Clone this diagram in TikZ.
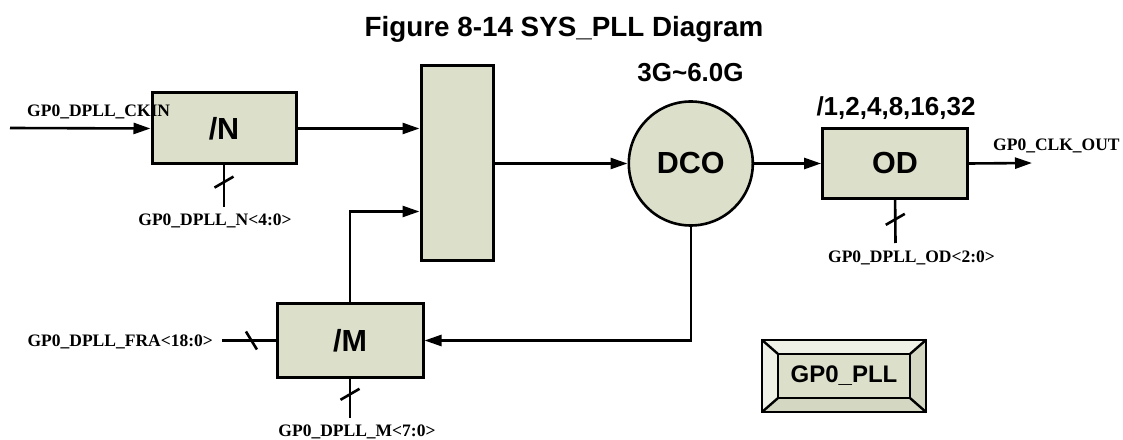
\documentclass[tikz,border=0pt]{standalone}
\usepackage{fontspec}
\setmainfont{Liberation Serif}
\newfontfamily\arialfont{Liberation Sans}
\usetikzlibrary{arrows.meta,positioning,calc}

\definecolor{boxfill}{RGB}{220,224,203}
\definecolor{bevellight}{RGB}{239,241,231}
\definecolor{beveldark}{RGB}{212,216,194}

\begin{document}
\begin{tikzpicture}[
    x=1pt, y=1pt,
    block/.style={rectangle, draw=black, line width=3pt, fill=boxfill, inner sep=0pt, font=\arialfont\bfseries\fontsize{30.5}{36}\selectfont},
    dcoblock/.style={circle, draw=black, line width=2.6pt, fill=boxfill, minimum size=124pt, inner sep=0pt, font=\arialfont\bfseries\fontsize{30.5}{36}\selectfont},
    pllface/.style={rectangle, fill=boxfill, inner sep=0pt, font=\arialfont\bfseries\fontsize{24}{29}\selectfont},
    bevelline/.style={line width=2.4pt, line join=miter},
    wire/.style={line width=2.6pt},
    sig/.style={font=\bfseries\fontsize{17.5}{21}\selectfont, inner sep=0pt},
    note/.style={font=\arialfont\bfseries\fontsize{26}{31}\selectfont, inner sep=0pt},
    title/.style={font=\arialfont\bfseries\fontsize{27.8}{33}\selectfont, inner sep=0pt},
    >={Triangle[length=17pt,width=11pt]}
]
\useasboundingbox (0,0) rectangle (1123,439);

\node[title, anchor=base] (head) at (564,402) {Figure 8-14 SYS\_PLL Diagram};

% blocks
\node[block, minimum width=144pt, minimum height=71pt] (ndiv) at (224,310.5) {/N};
\node[block, minimum width=72pt, minimum height=195pt] (mix) at (457,275.5) {};
\node[dcoblock, right=133pt of mix] (dco) {DCO};
\node[block, minimum width=145pt, minimum height=70pt, right=67pt of dco] (od) {OD};
\node[block, minimum width=146pt, minimum height=73pt] (mdiv) at (350,98.5) {/M};

\node[note, anchor=base] (freq) at (690.5,357) {3G\textasciitilde6.0G};
\node[note, anchor=base] (ratio) at (896,323) {/1,2,4,8,16,32};

% signal ends and labels
\coordinate (ckin) at (10,311);
\coordinate (nbus) at (224,232);
\coordinate (odbus) at (895.5,196);
\coordinate (out) at (1032,276);
\coordinate (frabus) at (222,98.5);
\coordinate (mbus) at (350,21);

\node[sig, anchor=base west] (ckinlbl) at (27,322) {GP0\_DPLL\_CKIN};
\node[sig, anchor=base] (nlbl) at (215,213) {GP0\_DPLL\_N<4:0>};
\node[sig, anchor=base] (odlbl) at (911.5,176) {GP0\_DPLL\_OD<2:0>};
\node[sig, anchor=base west] (outlbl) at (993,288) {GP0\_CLK\_OUT};
\node[sig, anchor=base east] (fralbl) at (213,93) {GP0\_DPLL\_FRA<18:0>};
\node[sig, anchor=base] (mlbl) at (357,2.5) {GP0\_DPLL\_M<7:0>};

% data path
\draw[wire, ->] (ckin) -- (ndiv.west);
\draw[wire, ->] (ndiv.east) -- (ndiv.east -| mix.west);
\draw[wire, ->] (mix.east) -- (dco.west);
\draw[wire, ->] (dco.east) -- (od.west);
\draw[wire, ->] (od.east) -- (out);
\draw[wire, ->] (dco.south) |- (mdiv.east);
\draw[wire, ->] (mdiv.north) |- ([yshift=-48pt]mix.west);

% buses
\draw[wire] (ndiv.south) -- (nbus);
\draw[wire] ($(ndiv.south)!0.4!(nbus)$) +(-9.5,-5.5) -- +(9.5,5.5);
\draw[wire] (od.south) -- (odbus);
\draw[wire] ($(od.south)!0.45!(odbus)$) +(-9.5,-5.5) -- +(9.5,5.5);
\draw[wire] (frabus) -- (mdiv.west);
\draw[wire] ($(frabus)!0.55!(mdiv.west)$) +(-5.5,9) -- +(5.5,-9);
\draw[wire] (mdiv.south) -- (mbus);
\draw[wire] ($(mdiv.south)!0.4!(mbus)$) +(-9.5,-5.5) -- +(9.5,5.5);

% bevelled block
\node[pllface, minimum width=132pt, minimum height=44pt] (pll) at (844,63) {GP0\_PLL};
\coordinate (pllnw) at ($(pll.north west)+(-16,14)$);
\coordinate (pllne) at ($(pll.north east)+(16,14)$);
\coordinate (pllsw) at ($(pll.south west)+(-16,-14)$);
\coordinate (pllse) at ($(pll.south east)+(16,-14)$);
\fill[bevellight] (pll.north west) -- (pllnw) -- (pllne) -- (pll.north east) -- cycle;
\fill[bevellight] (pll.north west) -- (pllnw) -- (pllsw) -- (pll.south west) -- cycle;
\fill[beveldark] (pll.south east) -- (pllse) -- (pllne) -- (pll.north east) -- cycle;
\fill[beveldark] (pll.south east) -- (pllse) -- (pllsw) -- (pll.south west) -- cycle;
\draw[bevelline] (pllnw) rectangle (pllse);
\draw[bevelline] (pll.north west) rectangle (pll.south east);
\draw[bevelline] (pllnw) -- (pll.north west) (pllne) -- (pll.north east)
    (pllsw) -- (pll.south west) (pllse) -- (pll.south east);

\end{tikzpicture}
\end{document}
